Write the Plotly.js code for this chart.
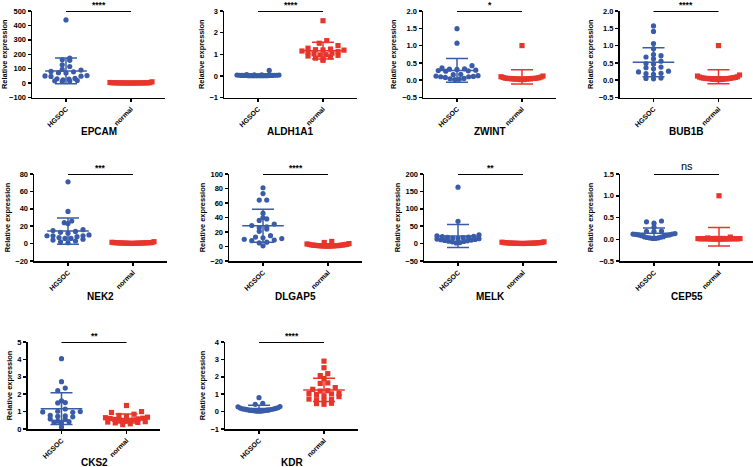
<!DOCTYPE html>
<html><head><meta charset="utf-8">
<script src="https://cdn.plot.ly/plotly-3.0.1.min.js"></script>
<style>html,body{margin:0;padding:0;background:#fff;} #chart{width:753px;height:467px;}</style>
</head><body><div id="chart"></div>
<script>
// ---------- data ----------
const groups = ['HGSOC', 'normal'];
const genes = ['EPCAM','ALDH1A1','ZWINT','BUB1B','NEK2','DLGAP5','MELK','CEP55','CKS2','KDR'];
const significance = ['****','****','*','****','***','****','**','ns','**','****'];
const yAxisTitle = 'Relative expression';

const EPCAM_HGSOC = [438, 173, 161, 158, 127, 115, 95, 90, 81, 78, 72, 70, 52, 50, 48, 46, 32, 30, 28, 22, 18, 16, 14, 12];
const EPCAM_normal = [9, 4, 3, 3, 2, 2, 2, 2, 1.5, 1.5, 1.2, 1.1, 1, 1, 0.9, 0.8, 0.8, 0.7, 0.6, 0.5, 0.5, 0.4];
const ALDH1A1_HGSOC = [0.25, 0.06, 0.05, 0.05, 0.04, 0.04, 0.03, 0.03, 0.03, 0.02, 0.02, 0.02, 0.02, 0.02, 0.01, 0.01, 0.01, 0.01, 0.01, 0.01, 0.005, 0.005, 0.005];
const ALDH1A1_normal = [2.55, 1.63, 1.51, 1.40, 1.28, 1.24, 1.21, 1.20, 1.19, 1.15, 1.12, 1.10, 1.05, 1.02, 0.98, 0.97, 0.95, 0.92, 0.88, 0.82, 0.78, 0.72];
const ZWINT_HGSOC = [1.49, 1.07, 0.42, 0.36, 0.33, 0.32, 0.31, 0.29, 0.28, 0.27, 0.26, 0.17, 0.16, 0.13, 0.12, 0.11, 0.10, 0.10, 0.08, 0.05, 0.04, 0.03, 0.02];
const ZWINT_normal = [1.0, 0.12, 0.1, 0.09, 0.08, 0.07, 0.06, 0.06, 0.05, 0.05, 0.05, 0.05, 0.04, 0.04, 0.04, 0.04, 0.03, 0.03, 0.03, 0.02, 0.02, 0.02];
const BUB1B_HGSOC = [1.57, 1.41, 1.06, 0.91, 0.74, 0.71, 0.67, 0.62, 0.55, 0.48, 0.47, 0.38, 0.36, 0.33, 0.26, 0.24, 0.20, 0.19, 0.17, 0.06, 0.05, 0.04];
const BUB1B_normal = [1.0, 0.15, 0.12, 0.1, 0.09, 0.08, 0.07, 0.07, 0.06, 0.06, 0.05, 0.05, 0.05, 0.04, 0.04, 0.04, 0.03, 0.03, 0.03, 0.02, 0.02, 0.02];
const NEK2_HGSOC = [71, 37, 26, 24, 23, 16, 15, 14, 13, 12, 10, 9, 9, 9, 8, 7, 6, 6, 5, 4, 3, 2, 1];
const NEK2_normal = [2.2, 1.5, 1.3, 1.2, 1.1, 1.0, 1.0, 0.9, 0.9, 0.8, 0.8, 0.7, 0.7, 0.6, 0.6, 0.5, 0.5, 0.4, 0.4, 0.3, 0.3, 0.2];
const DLGAP5_HGSOC = [81, 73, 64, 64, 46, 40, 38, 36, 31, 29, 27, 26, 24, 21, 15, 13, 12, 11, 10, 9, 8, 6, 5, 1];
const DLGAP5_normal = [7, 5.5, 4, 3.5, 3, 2.8, 2.5, 2.2, 2, 1.8, 1.6, 1.5, 1.3, 1.2, 1.1, 1, 0.9, 0.8, 0.7, 0.6, 0.5, 0.4];
const MELK_HGSOC = [162, 64, 25, 22, 21, 20, 19, 18, 17, 16, 15, 14, 13, 12, 11, 10, 9, 8, 7, 6, 5, 3, 2];
const MELK_normal = [5, 4, 3.5, 3, 2.8, 2.5, 2.2, 2, 1.8, 1.6, 1.5, 1.4, 1.2, 1.1, 1, 0.9, 0.8, 0.7, 0.6, 0.5, 0.4, 0.3];
const CEP55_HGSOC = [0.42, 0.40, 0.37, 0.28, 0.19, 0.18, 0.18, 0.13, 0.12, 0.12, 0.11, 0.10, 0.10, 0.09, 0.08, 0.07, 0.06, 0.05, 0.04, 0.03, 0.03, 0.02, 0.02];
const CEP55_normal = [1.0, 0.05, 0.03, 0.02, 0.02, 0.015, 0.015, 0.01, 0.01, 0.01, 0.01, 0.01, 0.01, 0.008, 0.008, 0.006, 0.005, 0.005, 0.004, 0.003, 0.002, 0.001];
const CKS2_HGSOC = [4.04, 2.72, 2.35, 2.20, 1.62, 1.52, 1.50, 1.15, 1.02, 1.00, 0.98, 0.96, 0.78, 0.75, 0.72, 0.70, 0.58, 0.55, 0.45, 0.42, 0.40, 0.38, 0.12];
const CKS2_normal = [1.35, 1.00, 0.95, 0.85, 0.78, 0.72, 0.68, 0.65, 0.62, 0.60, 0.58, 0.55, 0.52, 0.50, 0.48, 0.45, 0.42, 0.40, 0.38, 0.35, 0.30, 0.25];
const KDR_HGSOC = [0.80, 0.48, 0.42, 0.29, 0.28, 0.22, 0.20, 0.18, 0.16, 0.15, 0.14, 0.12, 0.11, 0.10, 0.09, 0.08, 0.07, 0.06, 0.05, 0.04, 0.03, 0.02, 0.02];
const KDR_normal = [2.90, 2.52, 2.18, 2.07, 1.90, 1.65, 1.62, 1.38, 1.28, 1.20, 1.18, 1.05, 1.04, 1.02, 0.98, 0.90, 0.86, 0.72, 0.70, 0.68, 0.66, 0.48, 0.46, 0.42];

// y axis ranges and tick steps
const yMin  = [-100, -1, -0.5, -0.5, -20, -20, -50, -0.5, 0, -1];
const yMax  = [500, 3, 2.0, 2.0, 80, 100, 200, 1.5, 5, 4];
const yStep = [100, 1, 0.5, 0.5, 20, 20, 50, 0.5, 1, 1];
const yFormat = ['d','d','.1f','.1f','d','d','d','.1f','d','d'];

const hgsocData  = [EPCAM_HGSOC, ALDH1A1_HGSOC, ZWINT_HGSOC, BUB1B_HGSOC, NEK2_HGSOC, DLGAP5_HGSOC, MELK_HGSOC, CEP55_HGSOC, CKS2_HGSOC, KDR_HGSOC];
const normalData = [EPCAM_normal, ALDH1A1_normal, ZWINT_normal, BUB1B_normal, NEK2_normal, DLGAP5_normal, MELK_normal, CEP55_normal, CKS2_normal, KDR_normal];

// ---------- layout geometry (pixels) ----------
const W = 753, H = 467;
const PX_PER_CAT = 65;            // pixels between the two categories
const X_RANGE = [-0.52, 1.52];
const panelLeft = [32.2, 224.2, 423.2, 619.7, 34.2, 229.2, 424.2, 620.2, 27.7, 225.2];
const rowTop = [11, 174, 342];
const rowBottom = [97.5, 261, 429];
const rowLabelY = [131, 296, 462];
const panelRow = [0,0,0,0,1,1,1,1,2,2];

const BLUE = '#3a5ca8', RED = '#e8352c';
const FONT = 'Liberation Sans, Arial, Helvetica, sans-serif';
const MS = 5.2;        // marker diameter px
const ROW_H = 5;       // beeswarm row height px
const SPACING = 7.5;   // horizontal spacing px
const MAX_HALF = 21;   // max half width of swarm px

function mean(a){ return a.reduce((s,v)=>s+v,0)/a.length; }
function sd(a){ const m=mean(a); return Math.sqrt(a.reduce((s,v)=>s+(v-m)*(v-m),0)/(a.length-1)); }

function swarm(vals, center, lo, hi, heightPx){
  const pxPerY = heightPx/(hi-lo);
  const rows = {};
  vals.forEach((v,i)=>{ const r = Math.round((v-lo)*pxPerY/ROW_H); (rows[r]=rows[r]||[]).push(i); });
  const xs = new Array(vals.length);
  Object.values(rows).forEach(idx=>{
    idx.sort((a,b)=>vals[a]-vals[b]);
    const n = idx.length;
    const s = n>1 ? Math.min(SPACING, 2*MAX_HALF/(n-1)) : 0;
    idx.forEach((id,k)=>{
      let pos;
      if (n%2===1){ const j=Math.ceil(k/2); pos = (k===0)?0:(k%2===1?-j:j); }
      else { const j=Math.floor(k/2)+0.5; pos = (k%2===0)?-j:j; }
      xs[id] = center + pos*s/PX_PER_CAT;
    });
  });
  return xs;
}

const traces = [];
const layout = {
  width: W, height: H, margin:{l:0,r:0,t:0,b:0},
  paper_bgcolor:'#fff', plot_bgcolor:'rgba(0,0,0,0)',
  showlegend:false, annotations:[], font:{family:FONT, color:'#000'}
};

genes.forEach((g,i)=>{
  const n = i+1, sfx = n===1?'':String(n);
  const xa='x'+sfx, ya='y'+sfx;
  const r = panelRow[i];
  const T = rowTop[r], B = rowBottom[r], Hp = B-T;
  const L = panelLeft[i], R = Math.min(W, L + PX_PER_CAT*(X_RANGE[1]-X_RANGE[0]));
  layout['xaxis'+sfx] = {
    domain:[L/W, R/W], range:X_RANGE, anchor:ya,
    tickvals:[0,1], ticktext:groups, tickangle:-45,
    showline:true, linecolor:'#000', linewidth:1.7, mirror:false,
    ticks:'outside', ticklen:3, tickwidth:1.5, tickcolor:'#000',
    showgrid:false, zeroline:false, fixedrange:true,
    tickfont:{family:FONT, size:7, weight:'bold', color:'#000'}
  };
  layout['yaxis'+sfx] = {
    domain:[1-B/H, 1-T/H], range:[yMin[i], yMax[i]], anchor:xa,
    tick0:yMin[i], dtick:yStep[i], tickformat:yFormat[i],
    showline:true, linecolor:'#000', linewidth:1.7,
    ticks:'outside', ticklen:3, tickwidth:1.5, tickcolor:'#000',
    showgrid:false, zeroline:false, fixedrange:true,
    tickfont:{family:FONT, size:7.5, weight:'bold', color:'#000'},
    title:{text:yAxisTitle, font:{family:FONT, size:7.4, weight:'bold', color:'#000'}, standoff:4}
  };
  [[hgsocData[i],0,BLUE,'circle'],[normalData[i],1,RED,'square']].forEach(([vals,c,col,sym])=>{
    traces.push({type:'scatter', mode:'markers', xaxis:xa, yaxis:ya, cliponaxis:false,
      x: swarm(vals, c, yMin[i], yMax[i], Hp), y: vals,
      marker:{color:col, size:MS, symbol:sym, line:{width:0}}, hoverinfo:'skip'});
    const m = mean(vals), s = sd(vals);
    traces.push({type:'scatter', mode:'lines', xaxis:xa, yaxis:ya, cliponaxis:false,
      x:[c-0.32, c+0.32], y:[m,m], line:{color:col, width:1.5}, hoverinfo:'skip'});
    traces.push({type:'scatter', mode:'markers', xaxis:xa, yaxis:ya, cliponaxis:false,
      x:[c], y:[m], marker:{size:1, color:col, opacity:0},
      error_y:{type:'data', array:[s], visible:true, color:col, thickness:1.5, width:11},
      hoverinfo:'skip'});
  });
  // significance bar
  traces.push({type:'scatter', mode:'lines', xaxis:xa, yaxis:ya, cliponaxis:false,
    x:[0,1], y:[yMax[i], yMax[i]], line:{color:'#000', width:2}, hoverinfo:'skip'});
  const isNs = significance[i]==='ns';
  layout.annotations.push({xref:xa, yref:ya, x:0.5, y:yMax[i], text:significance[i],
    showarrow:false, yanchor:'bottom', yshift: isNs?0:-1,
    font:{family:FONT, size:isNs?11:8.5, weight:isNs?'normal':'bold', color:'#000'}});
  // gene label
  layout.annotations.push({xref:xa, yref:'paper', x:0.5, y:1-rowLabelY[r]/H, text:g,
    showarrow:false, yanchor:'middle', xanchor:'center',
    font:{family:FONT, size:10, weight:'bold', color:'#000'}});
});

Plotly.newPlot('chart', traces, layout, {staticPlot:true, displayModeBar:false});
</script>
</body></html>
